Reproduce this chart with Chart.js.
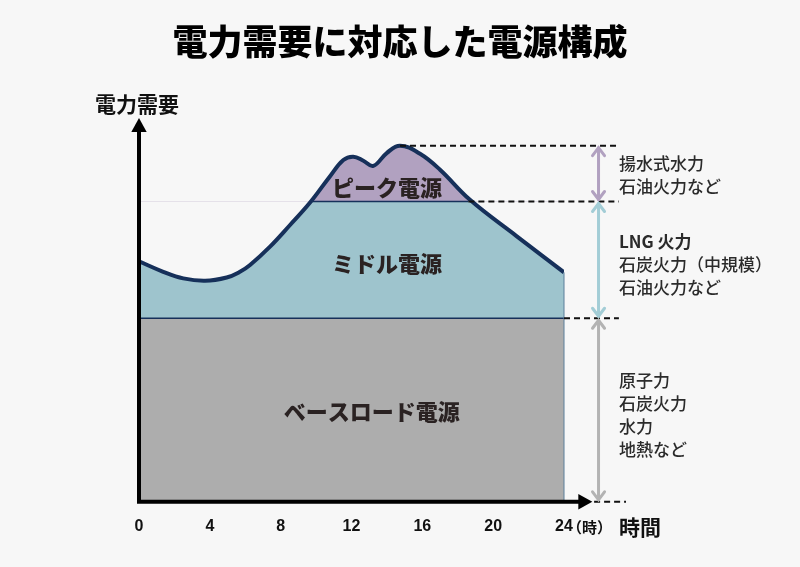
<!DOCTYPE html>
<html>
<head>
<meta charset="utf-8">
<script src="https://cdn.jsdelivr.net/npm/chart.js@4.4.1/dist/chart.umd.min.js"></script>
<style>
  html, body { margin: 0; padding: 0; background: #f7f7f7; }
  #wrap { width: 800px; height: 567px; }
</style>
</head>
<body>
<div id="wrap"><canvas id="powerChart" width="800" height="567"></canvas></div>
<script>
// demand curve (hour, demand)
const hours  = [0, 1.37, 2.5, 3.73, 4.95, 5.7, 6.27, 7.4, 8.53, 9.66, 10.79, 11.54, 12.1, 12.67, 13.23, 13.99, 14.74, 15.87, 17.0, 18.69, 21.3, 24];
const demand = [131, 125.3, 121.7, 120.4, 122.2, 125.3, 129, 139, 150.8, 163, 177.4, 186.2, 188, 185.8, 183, 190, 194, 189.6, 180.9, 164.5, 144.9, 125];

const baseLevel = 100;    // ベースロード上限
const peakLevel = 163.6;  // ミドル上限
const peakCross = [9.68, 18.6]; // curve crosses peakLevel here
const peakTop = { x: 14.74, y: 194 };

const xTicks = [0, 4, 8, 12, 16, 20, 24];

const layerNames = ['ピーク電源', 'ミドル電源', 'ベースロード電源'];
const peakSources = ['揚水式水力', '石油火力など'];
const midSources  = ['LNG 火力', '石炭火力（中規模）', '石油火力など'];
const baseSources = ['原子力', '石炭火力', '水力', '地熱など'];

const NAVY = '#16305a';
const GRAY = '#adadad';
const BLUE = '#9ec4cd';
const PURPLE = '#b1a1c0';
const JP = '"Noto Sans CJK JP", "Noto Sans", sans-serif';

const curvePts = hours.map((h, i) => ({ x: h, y: demand[i] }));

function arrowHead(ctx, x, y, dir, size) {
  ctx.beginPath();
  if (dir === 'up') {
    ctx.moveTo(x, y);
    ctx.lineTo(x - size * 0.55, y + size);
    ctx.lineTo(x + size * 0.55, y + size);
  } else {
    ctx.moveTo(x, y);
    ctx.lineTo(x - size, y - size * 0.55);
    ctx.lineTo(x - size, y + size * 0.55);
  }
  ctx.closePath();
  ctx.fill();
}

function doubleArrow(ctx, x, y1, y2, color) {
  ctx.save();
  ctx.strokeStyle = color;
  ctx.lineWidth = 3;
  ctx.lineCap = 'round';
  ctx.beginPath();
  ctx.moveTo(x, y1 + 2);
  ctx.lineTo(x, y2 - 2);
  ctx.stroke();
  ctx.beginPath();
  ctx.moveTo(x - 6, y1 + 10); ctx.lineTo(x, y1 + 2); ctx.lineTo(x + 6, y1 + 10);
  ctx.moveTo(x - 6, y2 - 10); ctx.lineTo(x, y2 - 2); ctx.lineTo(x + 6, y2 - 10);
  ctx.stroke();
  ctx.restore();
}

function dashed(ctx, x1, x2, y) {
  ctx.save();
  ctx.strokeStyle = '#111';
  ctx.lineWidth = 2;
  ctx.setLineDash([6, 4]);
  ctx.beginPath();
  ctx.moveTo(x1, y);
  ctx.lineTo(x2, y);
  ctx.stroke();
  ctx.restore();
}

function textBlock(ctx, lines, x, yCenter) {
  const gap = 23;
  const start = yCenter - (lines.length - 1) * gap / 2;
  lines.forEach((t, i) => {
    ctx.font = (t.startsWith('LNG') ? '700 ' : '500 ') + '17px ' + JP;
    ctx.fillText(t, x, start + i * gap);
  });
}

const decor = {
  id: 'decor',
  beforeDraw(chart) {
    const ctx = chart.ctx;
    ctx.save();
    ctx.fillStyle = '#f7f7f7';
    ctx.fillRect(0, 0, chart.width, chart.height);
    ctx.restore();
  },
  afterDraw(chart) {
    const ctx = chart.ctx;
    const xs = chart.scales.x, ys = chart.scales.y;
    const x0 = xs.getPixelForValue(0), x24 = xs.getPixelForValue(24);
    const yb = ys.getPixelForValue(0);
    const yBase = ys.getPixelForValue(baseLevel);
    const yPeak = ys.getPixelForValue(peakLevel);
    const yTop = ys.getPixelForValue(peakTop.y);
    ctx.save();

    // right edge of the filled area
    ctx.strokeStyle = '#5b7f9a';
    ctx.lineWidth = 1;
    ctx.beginPath();
    ctx.moveTo(x24, ys.getPixelForValue(demand[demand.length - 1]));
    ctx.lineTo(x24, yb);
    ctx.stroke();

    // axes with arrows
    ctx.strokeStyle = '#000';
    ctx.fillStyle = '#000';
    ctx.lineWidth = 4;
    ctx.beginPath();
    ctx.moveTo(x0, yb);
    ctx.lineTo(x0, ys.getPixelForValue(ys.max) + 10);
    ctx.moveTo(x0 - 2, yb);
    ctx.lineTo(xs.getPixelForValue(25.3), yb);
    ctx.stroke();
    arrowHead(ctx, x0, ys.getPixelForValue(ys.max) - 2, 'up', 14);
    arrowHead(ctx, xs.getPixelForValue(25.6), yb, 'right', 14);

    // dashed guide lines
    const xEnd = xs.getPixelForValue(27.1);
    dashed(ctx, xs.getPixelForValue(peakTop.x), xEnd, yTop);
    dashed(ctx, xs.getPixelForValue(peakCross[1]), xEnd, yPeak);
    dashed(ctx, x24, xEnd, yBase);
    dashed(ctx, xs.getPixelForValue(25.7), xs.getPixelForValue(27.5), yb);

    // range arrows
    const ax = xs.getPixelForValue(25.95);
    doubleArrow(ctx, ax, yTop, yPeak, PURPLE);
    doubleArrow(ctx, ax, yPeak, yBase, '#a3cdd6');
    doubleArrow(ctx, ax, yBase, yb, '#b3b3b3');

    // source lists
    ctx.fillStyle = '#2b2b2b';
    ctx.textAlign = 'left';
    ctx.textBaseline = 'middle';
    const tx = xs.getPixelForValue(27.1);
    textBlock(ctx, peakSources, tx, (yTop + yPeak) / 2 + 1);
    textBlock(ctx, midSources, tx, (yPeak + yBase) / 2 + 5);
    textBlock(ctx, baseSources, tx, (yBase + yb) / 2 + 5);

    // layer names
    ctx.fillStyle = '#2a2222';
    ctx.textAlign = 'center';
    ctx.font = '900 22px ' + JP;
    ctx.fillText(layerNames[0], xs.getPixelForValue(14), ys.getPixelForValue(171));
    ctx.fillText(layerNames[1], xs.getPixelForValue(14), ys.getPixelForValue(130));
    ctx.fillText(layerNames[2], xs.getPixelForValue(13.15), ys.getPixelForValue(49));

    // titles
    ctx.fillStyle = '#000';
    ctx.font = '900 35px ' + JP;
    ctx.fillText('電力需要に対応した電源構成', 400, 42);
    ctx.fillStyle = '#111';
    ctx.font = '700 21px ' + JP;
    ctx.textAlign = 'left';
    ctx.fillText('電力需要', 95, 104);
    ctx.font = '700 15px ' + JP;
    ctx.fillText('（時）', x24 + 3, 527);
    ctx.font = '700 21px ' + JP;
    ctx.fillText('時間', 619, 527);
    ctx.restore();
  }
};

new Chart(document.getElementById('powerChart'), {
  type: 'line',
  data: {
    datasets: [
      { // demand curve outline (top)
        data: curvePts,
        borderColor: NAVY,
        borderWidth: 4,
        fill: false,
        pointRadius: 0,
        tension: 0.4
      },
      { // base load
        data: [{ x: 0, y: baseLevel }, { x: 24, y: baseLevel }],
        borderColor: NAVY,
        borderWidth: 1.5,
        backgroundColor: GRAY,
        fill: 'origin',
        pointRadius: 0
      },
      { // peak boundary
        data: [{ x: peakCross[0], y: peakLevel }, { x: peakCross[1], y: peakLevel }],
        borderColor: NAVY,
        borderWidth: 1.5,
        fill: false,
        pointRadius: 0
      },
      { // peak layer
        data: curvePts,
        borderWidth: 0,
        borderColor: 'rgba(0,0,0,0)',
        fill: { target: { value: peakLevel }, above: PURPLE, below: 'rgba(0,0,0,0)' },
        pointRadius: 0,
        tension: 0.4
      },
      { // middle layer (under everything)
        data: curvePts,
        borderWidth: 0,
        borderColor: 'rgba(0,0,0,0)',
        backgroundColor: BLUE,
        fill: 'origin',
        pointRadius: 0,
        tension: 0.4
      }
    ]
  },
  options: {
    responsive: false,
    animation: false,
    layout: { padding: { left: 139, right: 236, top: 120, bottom: 16 } },
    plugins: { legend: { display: false }, tooltip: { enabled: false } },
    scales: {
      x: {
        type: 'linear',
        min: 0,
        max: 24,
        afterBuildTicks: (s) => { s.ticks = xTicks.map(v => ({ value: v })); },
        grid: { display: false, drawTicks: false },
        border: { display: false },
        ticks: {
          padding: 15,
          color: '#111',
          font: { family: '"Liberation Sans Narrow", "Liberation Sans", sans-serif', size: 16, weight: 'bold' }
        }
      },
      y: {
        display: false,
        min: 0,
        max: 208
      }
    }
  },
  plugins: [decor]
});
</script>
</body>
</html>
